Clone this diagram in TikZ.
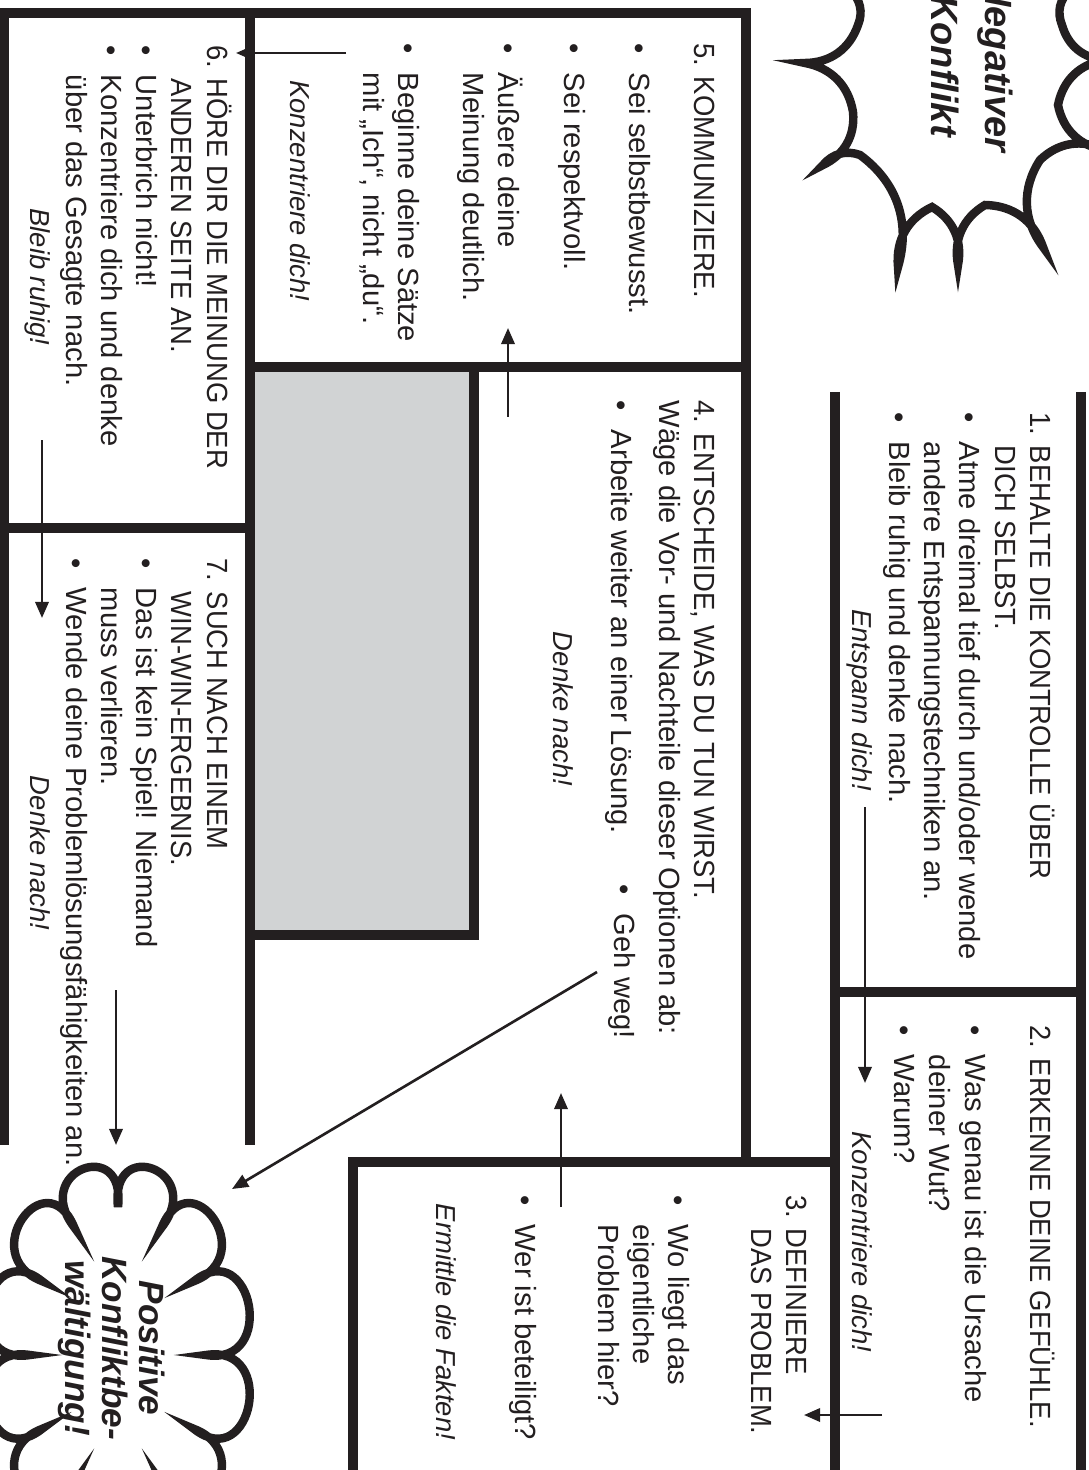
\documentclass[tikz,border=0pt]{standalone}
\usepackage{fontspec}
\setmainfont{Liberation Sans}
\newfontfamily\headfont{Liberation Sans}[FakeStretch=0.94]
\usetikzlibrary{arrows.meta}
\definecolor{ink}{HTML}{231F20}
\definecolor{shade}{HTML}{D1D3D4}
\newcommand{\bul}{\makebox[1em][l]{\textbullet}}
\newcommand{\ind}{\hspace*{1em}}
\newcommand{\tp}{\rule{0pt}{8pt}}

\begin{document}
\begin{tikzpicture}[x=0.01cm,y=-0.01cm,
  frame/.style={draw=ink,line width=2.85pt},
  flow/.style={draw=ink,line width=0.75pt,-{Triangle[length=4.6pt,width=3.8pt]}},
  burst/.style={draw=ink,line width=2.4pt,fill=white},
  txt/.style={rotate=-90,anchor=north west,inner sep=0pt,align=left,text=ink,font=\fontsize{8.3}{10}\selectfont},
  hint/.style={rotate=-90,anchor=base,inner sep=0pt,text=ink,font=\fontsize{7.8}{10}\selectfont\itshape},
  shout/.style={rotate=-90,anchor=north,inner sep=0pt,align=center,text=ink}]
\useasboundingbox (0,0) rectangle (1089,1470);
\clip (0,0) rectangle (1089,1470);

% frames
\draw[frame] (3.5,1145) -- (3.5,13) -- (746,13) -- (746,1162);
\draw[frame] (250,13) -- (250,1145);
\draw[frame] (3.5,528) -- (250,528);
\draw[frame] (250,367) -- (746,367);
\draw[frame,fill=shade] (250,367) rectangle (474,935);
\draw[frame] (353,1480) -- (353,1162) -- (835,1162);
\draw[frame] (835,392) -- (835,1480);
\draw[frame] (1081,392) -- (1081,1480);
\draw[frame] (835,992) -- (1081,992);

% bursts
\draw[burst,every to/.style={bend left=35}] (850,-40) -- (850,-10) to (858,25) to (805,63) to (853,112)
  to (823,165) to (860,155) to (898,267) to (932,207) to (958,265) to (985,205) to (1043,247)
  to (1040,160) to (1105,150) to (1058,105) to (1105,60) to (1062,25) to (1070,-10) -- (1070,-40) -- cycle;
\begin{scope}[shift={(118,1355)}]
\draw[burst] (0:88 and 148) \foreach \t in {0,30,...,300}{
  .. controls (\t-3:160 and 220) and (\t+33:160 and 220) .. (\t+30:88 and 148)}
  .. controls (327:160 and 220) and (363:160 and 220) .. cycle;
\end{scope}
\node[shout,font=\fontsize{10.8}{15.5}\selectfont\bfseries\itshape] (neg) at (1014,66) {Negativer\\Konflikt};
\node[shout,font=\fontsize{10}{10.5}\selectfont\bfseries\itshape] (pos) at (166,1348) {Positive\\Konfliktbe-\\wältigung!};

% texts
\node[txt] (t1) at (1059,412) {\tp{\headfont 1. BEHALTE DIE KONTROLLE ÜBER}\\
  {\headfont\hphantom{1. }DICH SELBST.}\\
  \bul Atme dreimal tief durch und/oder wende\\
  \ind andere Entspannungstechniken an.\\
  \bul Bleib ruhig und denke nach.};
\node[hint] (h1) at (852,700) {Entspann dich!};
\node[txt] (t2) at (1059,1025) {\tp{\headfont 2. ERKENNE DEINE GEFÜHLE.}\\[8.5pt]
  \bul Was genau ist die Ursache\\
  \ind deiner Wut?\\
  \bul Warum?};
\node[hint] (h2) at (852,1242) {Konzentriere dich!};
\node[txt] (t3) at (815,1195) {\tp{\headfont 3. DEFINIERE}\\
  {\headfont\hphantom{3. }DAS PROBLEM.}\\[13.4pt]
  \bul Wo liegt das\\
  \ind eigentliche\\
  \ind Problem hier?\\[13.5pt]
  \bul Wer ist beteiligt?};
\node[hint] (h3) at (436,1322) {Ermittle die Fakten!};
\node[txt] (t4) at (723,400) {\tp{\headfont 4. ENTSCHEIDE, WAS DU TUN WIRST.}\\
  Wäge die Vor- und Nachteile dieser Optionen ab:\\[3.4pt]
  \bul Arbeite weiter an einer Lösung.};
\node[txt,anchor=base west] (geh) at (614,884) {\bul Geh weg!};
\node[hint] (h4) at (553,709) {Denke nach!};
\node[txt] (t5) at (723,43) {\tp{\headfont 5. KOMMUNIZIERE.}\\[8.5pt]
  \bul Sei selbstbewusst.\\[8.5pt]
  \bul Sei respektvoll.\\[8.5pt]
  \bul Äußere deine\\
  \ind Meinung deutlich.\\[8.5pt]
  \bul Beginne deine Sätze\\
  \ind mit „Ich“, nicht „du“.};
\node[hint] (h5) at (290,191) {Konzentriere dich!};
\node[txt] (t6) at (236,45) {\tp{\headfont 6. HÖRE DIR DIE MEINUNG DER}\\
  {\headfont\hphantom{6. }ANDEREN SEITE AN.}\\
  \bul Unterbrich nicht!\\
  \bul Konzentriere dich und denke\\
  \ind über das Gesagte nach.};
\node[hint] (h6) at (31,277) {Bleib ruhig!};
\node[txt] (t7) at (236,558) {\tp{\headfont 7. SUCH NACH EINEM}\\
  {\headfont\hphantom{7. }WIN-WIN-ERGEBNIS.}\\
  \bul Das ist kein Spiel! Niemand\\
  \ind muss verlieren.\\
  \bul Wende deine Problemlösungsfähigkeiten an.};
\node[hint] (h7) at (31,853) {Denke nach!};

% arrows
\coordinate (s1) at (865,807);  \coordinate (e1) at (865,1083);
\coordinate (s2) at (882,1415); \coordinate (e2) at (804,1415);
\coordinate (s3) at (561,1207); \coordinate (e3) at (561,1093);
\coordinate (s4) at (508,417);  \coordinate (e4) at (508,328);
\coordinate (s5) at (346,53);   \coordinate (e5) at (236,53);
\coordinate (s6) at (42,440);   \coordinate (e6) at (42,618);
\coordinate (s7) at (116,990);  \coordinate (e7) at (116,1145);
\coordinate (s8) at (597,972);  \coordinate (e8) at (232,1189);
\foreach \i in {1,...,8} \draw[flow] (s\i) -- (e\i);
\end{tikzpicture}
\end{document}
